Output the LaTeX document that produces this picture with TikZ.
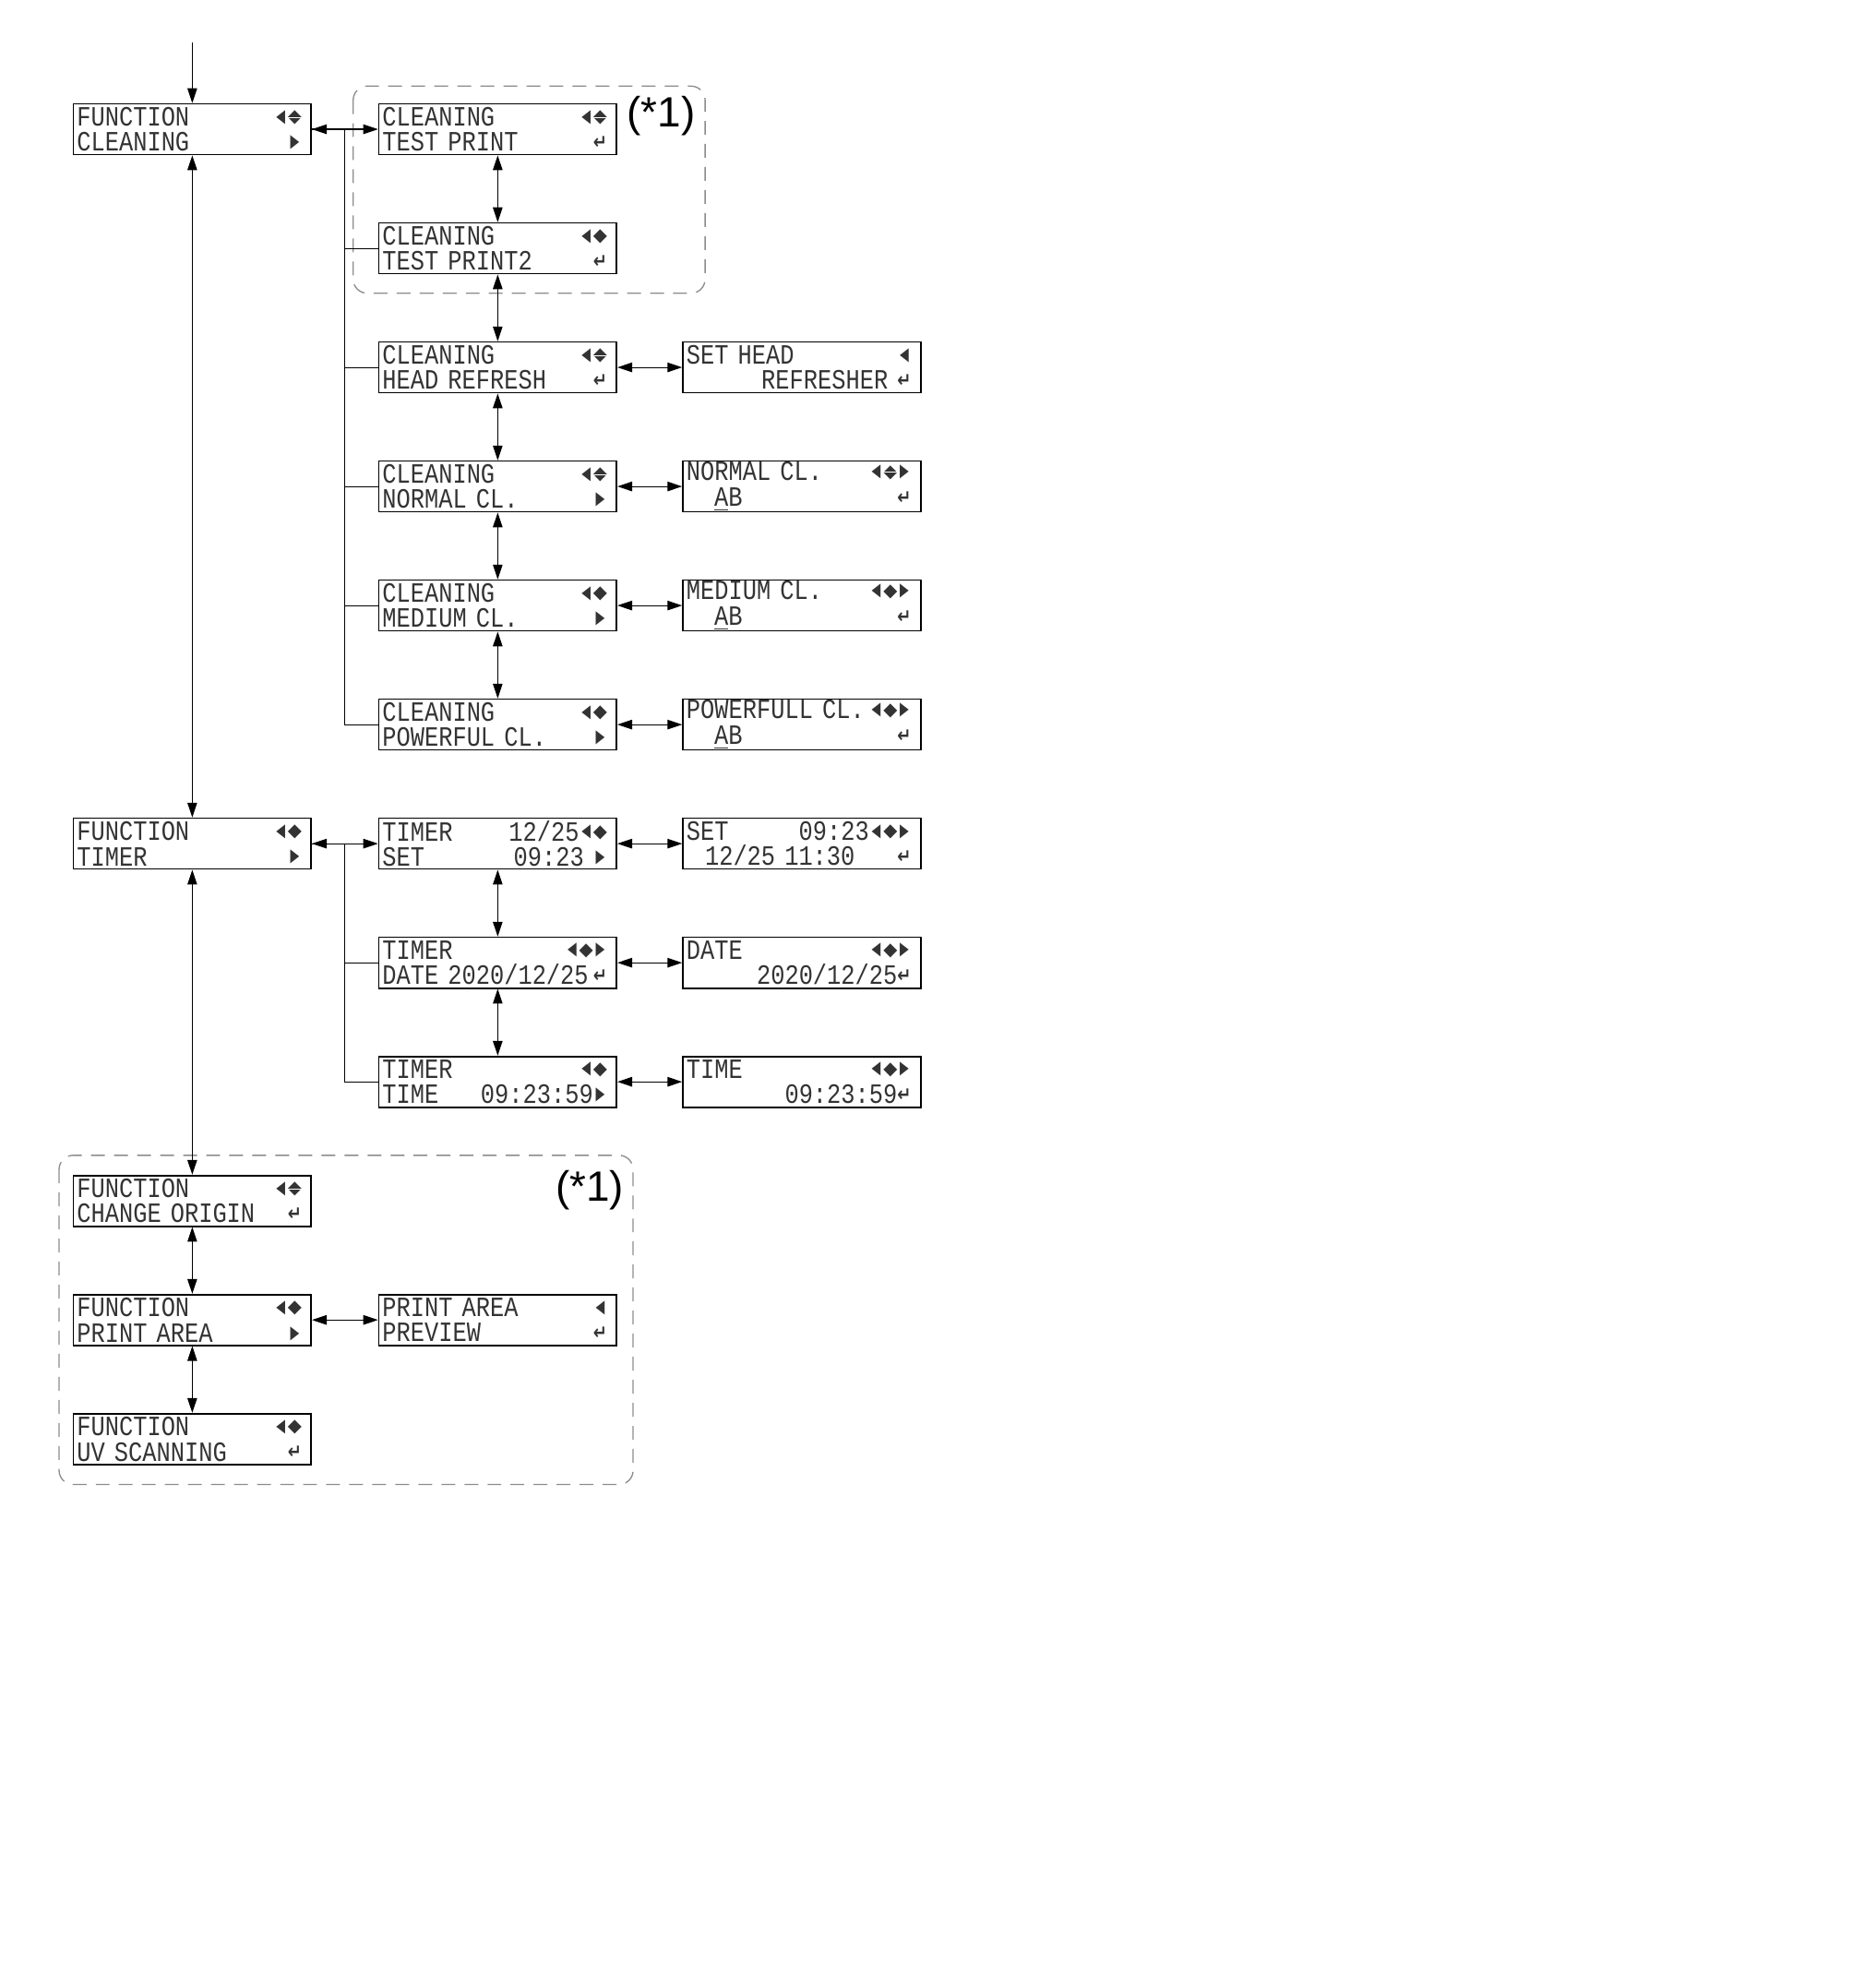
\documentclass[tikz,border=0pt]{standalone}
\usepackage{fontspec}
\setmainfont{Liberation Sans}
\newfontfamily\lcdfont[FakeStretch=0.84]{Liberation Mono}
\newfontfamily\symfont{DejaVu Sans}
\usetikzlibrary{arrows.meta}

% one display line: left part, right part, 16 cells wide
\newlength{\lcdcell}
\setlength{\lcdcell}{6.25pt}
\newsavebox{\symsave}
\newcommand{\lcdline}[2]{\makebox[16\lcdcell][l]{#1\hfill#2}}
% glyph of given width and height, bottom raised above the baseline
\newcommand{\symat}[4]{\sbox{\symsave}{\resizebox*{#1}{#2}{\symfont #4}}\makebox[0pt]{\raisebox{\dimexpr #3+\dp\symsave\relax}{\usebox{\symsave}}}}
\newcommand{\symL}{\makebox[\lcdcell]{\symat{4.0pt}{6.2pt}{0.7pt}{◀}}}
\newcommand{\symR}{\makebox[\lcdcell]{\symat{4.0pt}{6.2pt}{0.7pt}{▶}}}
\newcommand{\symD}{\makebox[\lcdcell]{\symat{6.2pt}{6.2pt}{0.6pt}{◆}}}
\newcommand{\symUD}{\makebox[\lcdcell]{\symat{6.2pt}{6.2pt}{0.6pt}{◆}\makebox[0pt]{\color{white}\rule[3.45pt]{6.6pt}{0.5pt}}}}
\newcommand{\symE}{\makebox[\lcdcell]{\symat{6.2pt}{5.6pt}{0.9pt}{\bfseries ↵}}}

\tikzstyle{lcd}=[rectangle, draw=black, line width=0.7pt, minimum width=3.715cm, minimum height=0.793cm, text width=3.605cm, align=left, inner xsep=0.055cm, inner ysep=0pt, text=black!80, font=\lcdfont\fontsize{12.4}{11.36}\selectfont]
\tikzstyle{myarrow}=[<->, >={Triangle[length=0.23cm, width=0.15cm]}, line width=0.45pt]
\tikzstyle{line}=[-, line width=0.45pt]
\tikzstyle{frame}=[black!45, line width=0.55pt, dash pattern=on 0.216cm off 0.144cm, rounded corners=0.22cm]
\tikzstyle{note}=[font=\fontsize{18.8}{18.8}\selectfont]

\begin{document}
\begin{tikzpicture}
		    \useasboundingbox (0, 0) rectangle (29.3, -31.04);
		    \coordinate (entry) at (3.004, -0.663);

		    % main menu
		    \node (fnCleaning) at (3.004, -2.019) [lcd] {\lcdline{FUNCTION}{\symL\symUD}\\\lcdline{CLEANING}{\symR}};
		    \node (fnTimer) at (3.004, -13.179) [lcd] {\lcdline{FUNCTION}{\symL\symD}\\\lcdline{TIMER}{\symR}};
		    \node (fnOrigin) at (3.004, -18.759) [lcd] {\lcdline{FUNCTION}{\symL\symUD}\\\lcdline{CHANGE~ORIGIN}{\symE}};
		    \node (fnPrintArea) at (3.004, -20.619) [lcd] {\lcdline{FUNCTION}{\symL\symD}\\\lcdline{PRINT~AREA}{\symR}};
		    \node (fnUvScan) at (3.004, -22.479) [lcd] {\lcdline{FUNCTION}{\symL\symD}\\\lcdline{UV~SCANNING}{\symE}};

		    % cleaning
		    \node (testPrint) at (7.776, -2.019) [lcd] {\lcdline{CLEANING}{\symL\symUD}\\\lcdline{TEST~PRINT}{\symE}};
		    \node (testPrint2) at (7.776, -3.879) [lcd] {\lcdline{CLEANING}{\symL\symD}\\\lcdline{TEST~PRINT2}{\symE}};
		    \node (headRefresh) at (7.776, -5.739) [lcd] {\lcdline{CLEANING}{\symL\symUD}\\\lcdline{HEAD~REFRESH}{\symE}};
		    \node (normalCl) at (7.776, -7.599) [lcd] {\lcdline{CLEANING}{\symL\symUD}\\\lcdline{NORMAL~CL.}{\symR}};
		    \node (mediumCl) at (7.776, -9.459) [lcd] {\lcdline{CLEANING}{\symL\symD}\\\lcdline{MEDIUM~CL.}{\symR}};
		    \node (powerfulCl) at (7.776, -11.319) [lcd] {\lcdline{CLEANING}{\symL\symD}\\\lcdline{POWERFUL~CL.}{\symR}};

		    \node (setHead) at (12.527, -5.739) [lcd] {\lcdline{SET~HEAD}{\symL}\\\lcdline{}{REFRESHER~\symE}};
		    \node (normalSet) at (12.527, -7.599) [lcd] {\lcdline{NORMAL~CL.}{\symL\symUD\symR}\\\lcdline{~~~\underline{A}B}{\symE}};
		    \node (mediumSet) at (12.527, -9.459) [lcd] {\lcdline{MEDIUM~CL.}{\symL\symD\symR}\\\lcdline{~~~\underline{A}B}{\symE}};
		    \node (powerfulSet) at (12.527, -11.319) [lcd] {\lcdline{POWERFULL~CL.}{\symL\symD\symR}\\\lcdline{~~~\underline{A}B}{\symE}};

		    % timer
		    \node (timerSet) at (7.776, -13.179) [lcd] {\lcdline{TIMER}{12/25\symL\symD}\\\lcdline{SET}{09:23~\symR}};
		    \node (timerDate) at (7.776, -15.039) [lcd] {\lcdline{TIMER}{\symL\symD\symR}\\\lcdline{DATE~2020/12/25}{\symE}};
		    \node (timerTime) at (7.776, -16.899) [lcd] {\lcdline{TIMER}{\symL\symD}\\\lcdline{TIME}{09:23:59\symR}};

		    \node (setValue) at (12.527, -13.179) [lcd] {\lcdline{SET}{09:23\symL\symD\symR}\\\lcdline{~~12/25~11:30}{\symE}};
		    \node (dateValue) at (12.527, -15.039) [lcd] {\lcdline{DATE}{\symL\symD\symR}\\\lcdline{}{2020/12/25\symE}};
		    \node (timeValue) at (12.527, -16.899) [lcd] {\lcdline{TIME}{\symL\symD\symR}\\\lcdline{}{09:23:59\symE}};

		    % print area
		    \node (printAreaPreview) at (7.776, -20.619) [lcd] {\lcdline{PRINT~AREA}{\symL}\\\lcdline{PREVIEW}{\symE}};

		    % dashed groups
		    \draw[frame] (5.518, -1.345) rectangle (11.016, -4.581);
		    \node (note1) at (10.329, -1.807) [note] {(*1)};
		    \draw[frame] (0.923, -18.048) rectangle (9.891, -23.19);
		    \node (note2) at (9.217, -18.587) [note] {(*1)};

		    % main column
		    \draw[->, >={Triangle[length=0.23cm, width=0.15cm]}, line width=0.45pt] (entry) -- (fnCleaning.north);
		    \draw[myarrow] (fnCleaning.south) -- (fnTimer.north);
		    \draw[myarrow] (fnTimer.south) -- (fnOrigin.north);
		    \draw[myarrow] (fnOrigin.south) -- (fnPrintArea.north);
		    \draw[myarrow] (fnPrintArea.south) -- (fnUvScan.north);

		    % cleaning branch
		    \draw[myarrow] (fnCleaning.east) -- (testPrint.west);
		    \draw[line] (fnCleaning.east) -- ++(0.51, 0) |- (testPrint2.west);
		    \draw[line] (fnCleaning.east) -- ++(0.51, 0) |- (headRefresh.west);
		    \draw[line] (fnCleaning.east) -- ++(0.51, 0) |- (normalCl.west);
		    \draw[line] (fnCleaning.east) -- ++(0.51, 0) |- (mediumCl.west);
		    \draw[line] (fnCleaning.east) -- ++(0.51, 0) |- (powerfulCl.west);
		    \draw[myarrow] (testPrint.south) -- (testPrint2.north);
		    \draw[myarrow] (testPrint2.south) -- (headRefresh.north);
		    \draw[myarrow] (headRefresh.south) -- (normalCl.north);
		    \draw[myarrow] (normalCl.south) -- (mediumCl.north);
		    \draw[myarrow] (mediumCl.south) -- (powerfulCl.north);
		    \draw[myarrow] (headRefresh.east) -- (setHead.west);
		    \draw[myarrow] (normalCl.east) -- (normalSet.west);
		    \draw[myarrow] (mediumCl.east) -- (mediumSet.west);
		    \draw[myarrow] (powerfulCl.east) -- (powerfulSet.west);

		    % timer branch
		    \draw[myarrow] (fnTimer.east) -- (timerSet.west);
		    \draw[line] (fnTimer.east) -- ++(0.51, 0) |- (timerDate.west);
		    \draw[line] (fnTimer.east) -- ++(0.51, 0) |- (timerTime.west);
		    \draw[myarrow] (timerSet.south) -- (timerDate.north);
		    \draw[myarrow] (timerDate.south) -- (timerTime.north);
		    \draw[myarrow] (timerSet.east) -- (setValue.west);
		    \draw[myarrow] (timerDate.east) -- (dateValue.west);
		    \draw[myarrow] (timerTime.east) -- (timeValue.west);

		    % print area branch
		    \draw[myarrow] (fnPrintArea.east) -- (printAreaPreview.west);
\end{tikzpicture}
\end{document}
